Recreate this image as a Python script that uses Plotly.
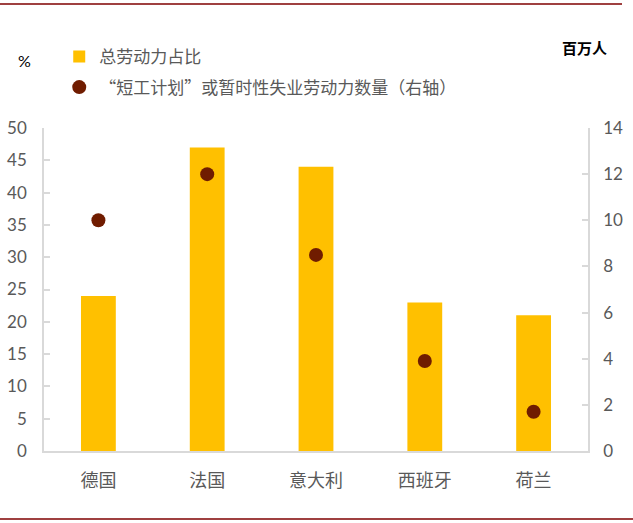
import plotly.graph_objects as go

# data
countries = ["德国", "法国", "意大利", "西班牙", "荷兰"]
labour_share = [24, 47, 44, 23, 21]          # % of total labour force (left axis)
short_time_workers = [10, 12, 8.5, 3.9, 1.7]  # millions (right axis)

BAR_COLOR = "#ffc000"
DOT_COLOR = "#701c00"
AXIS_GRAY = "#d9d9d9"
TEXT_GRAY = "#595959"
CJK = "Noto Sans CJK SC"

fig = go.Figure()
fig.add_trace(go.Bar(
    x=countries, y=labour_share, name="总劳动力占比",
    marker=dict(color=BAR_COLOR, line=dict(width=0)),
    width=0.32, legend="legend",
))
fig.add_trace(go.Scatter(
    x=countries, y=short_time_workers, yaxis="y2", mode="markers",
    name="“短工计划”或暂时性失业劳动力数量（右轴）",
    marker=dict(color=DOT_COLOR, size=14), legend="legend2",
))

fig.update_layout(
    width=633, height=523,
    margin=dict(l=44, r=45, t=128, b=72, autoexpand=False),
    paper_bgcolor="white", plot_bgcolor="white",
    showlegend=True,
    legend=dict(x=0.028, y=1.276, xanchor="left", yanchor="top",
                font=dict(family=CJK, size=17, color=TEXT_GRAY),
                itemwidth=30, bgcolor="rgba(0,0,0,0)"),
    legend2=dict(x=0.028, y=1.181, xanchor="left", yanchor="top",
                 font=dict(family=CJK, size=17, color=TEXT_GRAY),
                 itemwidth=30, bgcolor="rgba(0,0,0,0)"),
    xaxis=dict(
        showline=True, linecolor=AXIS_GRAY, linewidth=1.5,
        ticks="", showgrid=False,
        tickfont=dict(family=CJK, size=18, color=TEXT_GRAY),
        ticklabelstandoff=13,
    ),
    yaxis=dict(
        range=[0, 50], dtick=5, showgrid=False, zeroline=False,
        showline=True, linecolor=AXIS_GRAY, linewidth=1.5,
        ticks="inside", ticklen=6, tickcolor=AXIS_GRAY, tickwidth=1.5,
        tickfont=dict(family="Lato", size=17, color=TEXT_GRAY),
        ticklabelstandoff=12,
    ),
    yaxis2=dict(
        range=[0, 14], dtick=2, overlaying="y", side="right",
        showgrid=False, zeroline=False,
        showline=True, linecolor=AXIS_GRAY, linewidth=1.5,
        ticks="inside", ticklen=6, tickcolor=AXIS_GRAY, tickwidth=1.5,
        tickfont=dict(family="Lato", size=17, color=TEXT_GRAY),
        ticklabelstandoff=10,
    ),
    annotations=[
        dict(text="%", xref="paper", yref="paper", x=-0.035, y=1.21,
             xanchor="center", yanchor="middle",
             showarrow=False, font=dict(family="Lato", size=16, color="black")),
        dict(text="<b>百万人</b>", xref="paper", yref="paper", x=0.994, y=1.25,
             xanchor="center", yanchor="middle",
             showarrow=False, font=dict(family=CJK, size=15, color="black")),
    ],
    shapes=[
        dict(type="line", xref="paper", yref="paper", x0=-0.081, x1=1.0625,
             y0=1.384, y1=1.384, line=dict(color="#7f0000", width=1.5)),
        dict(type="line", xref="paper", yref="paper", x0=-0.081, x1=1.083,
             y0=-0.2105, y1=-0.2105, line=dict(color="#7f0000", width=1.5)),
    ],
)

# drop the browser's default 8px body margin so the figure sits at the top-left
fig.write_html("out.html", config={"displayModeBar": False},
               post_script="document.body.style.margin='0';")
